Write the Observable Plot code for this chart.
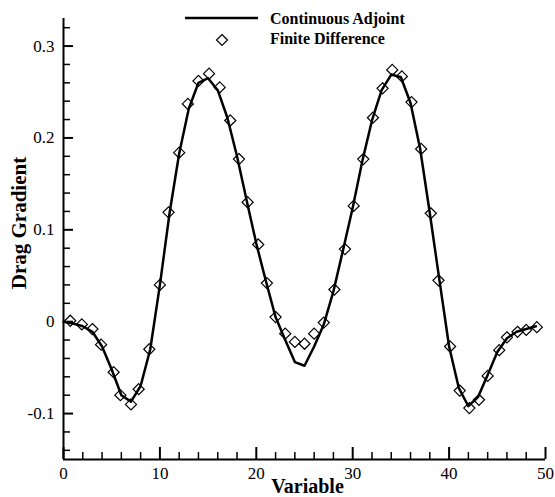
<!DOCTYPE html>
<html><head><meta charset="utf-8">
<script src="https://cdn.jsdelivr.net/npm/d3@7"></script>
<script src="https://cdn.jsdelivr.net/npm/@observablehq/plot@0.6"></script>
<style>
body{margin:0;background:#fff}
#wrap{position:relative;width:555px;height:497px}
#legend{position:absolute;left:0;top:0;pointer-events:none}
</style>
</head><body><div id="wrap"></div>
<script>
// Continuous adjoint gradient (line)
const adjointX = [0,1,2,3,4,5,6,7,8,9,10,11,12,13,14,15,16,17,18,19,20,21,22,23,24,25,26,27,28,29,30,31,32,33,34,35,36,37,38,39,40,41,42,43,44,45,46,47,48,49];
const adjointY = [0,-0.002,-0.005,-0.011,-0.027,-0.052,-0.080,-0.087,-0.070,-0.030,0.040,0.118,0.183,0.232,0.260,0.265,0.252,0.222,0.180,0.132,0.085,0.044,0.005,-0.020,-0.044,-0.048,-0.027,-0.003,0.033,0.078,0.124,0.175,0.219,0.252,0.269,0.266,0.238,0.188,0.118,0.045,-0.027,-0.072,-0.092,-0.082,-0.058,-0.033,-0.018,-0.011,-0.008,-0.005];
// Finite difference gradient (diamonds)
const fdX = [0.7,1.9,3.0,3.9,5.2,5.9,7.0,7.8,8.9,10.0,10.9,12.0,12.9,14.0,15.1,16.2,17.3,18.2,19.1,20.2,21.1,22.0,23.0,24.0,25.0,26.0,27.0,28.1,29.2,30.1,31.1,32.1,33.1,34.1,35.1,36.1,37.1,38.1,38.9,40.1,41.1,42.1,43.1,44.0,45.2,46.0,47.1,48.0,49.1];
const fdY = [0.001,-0.003,-0.008,-0.025,-0.055,-0.080,-0.090,-0.0735,-0.030,0.040,0.119,0.184,0.237,0.262,0.270,0.255,0.219,0.177,0.130,0.084,0.042,0.005,-0.013,-0.022,-0.024,-0.013,-0.001,0.035,0.079,0.126,0.177,0.222,0.254,0.274,0.267,0.239,0.188,0.118,0.045,-0.027,-0.075,-0.094,-0.085,-0.059,-0.031,-0.017,-0.011,-0.009,-0.006];

const xTicks = [0,10,20,30,40,50];
const xTickLabels = ["0","10","20","30","40","50"];
const xMinorTicks = [2,4,6,8,12,14,16,18,22,24,26,28,32,34,36,38,42,44,46,48];
const yTicks = [-0.1,0,0.1,0.2,0.3];
const yTickLabels = ["-0.1","0","0.1","0.2","0.3"];
const yMinorTicks = [-0.14,-0.12,-0.08,-0.06,-0.04,-0.02,0.02,0.04,0.06,0.08,0.12,0.14,0.16,0.18,0.22,0.24,0.26,0.28,0.32];
const seriesNames = ["Continuous Adjoint","Finite Difference"];
const xTitle = "Variable";
const yTitle = "Drag Gradient";

const adjoint = adjointX.map((x, i) => ({x, y: adjointY[i]}));
const fd = fdX.map((x, i) => ({x, y: fdY[i]}));
const serif = "Liberation Serif, Times New Roman, serif";

const chart = Plot.plot({
  width: 555, height: 497,
  marginLeft: 63, marginRight: 10, marginTop: 18, marginBottom: 38,
  x: {domain: [0, 50]},
  y: {domain: [-0.15, 0.33]},
  style: {fontFamily: serif, fontSize: "17px", color: "black", background: "white"},
  marks: [
    Plot.axisX(xMinorTicks, {tickSize: -7, strokeWidth: 1.5, tickFormat: () => "", label: null}),
    Plot.axisX(xTicks, {tickSize: -12, strokeWidth: 2, tickFormat: () => "", label: null}),
    Plot.axisX(xTicks, {tickSize: 0, tickPadding: 7, fontFamily: serif, fontSize: 17, tickFormat: d => xTickLabels[xTicks.indexOf(d)], label: null}),
    Plot.axisY(yMinorTicks, {tickSize: -7, strokeWidth: 1.5, tickFormat: () => "", label: null}),
    Plot.axisY(yTicks, {tickSize: -10, strokeWidth: 2, tickFormat: () => "", label: null}),
    Plot.axisY(yTicks, {tickSize: 0, tickPadding: 9, fontFamily: serif, fontSize: 17, tickFormat: d => yTickLabels[yTicks.indexOf(d)], label: null}),
    Plot.ruleX([0], {strokeWidth: 2}),
    Plot.ruleY([-0.15], {strokeWidth: 2}),
    Plot.line(adjoint, {x: "x", y: "y", stroke: "black", strokeWidth: 2.5}),
    Plot.dot(fd, {x: "x", y: "y", symbol: "diamond2", r: 5, stroke: "black", strokeWidth: 1.2, fill: "none"}),
    Plot.text([xTitle], {text: d => d, frameAnchor: "bottom", textAnchor: "middle", lineAnchor: "top", dy: 19, dx: 3, fontFamily: serif, fontSize: 20, fontWeight: "bold"}),
    Plot.text([yTitle], {text: d => d, frameAnchor: "left", textAnchor: "middle", rotate: -90, dx: -44, dy: -16, fontFamily: serif, fontSize: 21, fontWeight: "bold"})
  ]
});
const wrap = document.getElementById("wrap");
wrap.appendChild(chart);

// legend overlay
const ns = "http://www.w3.org/2000/svg";
const lg = document.createElementNS(ns, "svg");
lg.setAttribute("id", "legend");
lg.setAttribute("width", 555);
lg.setAttribute("height", 60);
lg.innerHTML = `
  <line x1="185" x2="258" y1="18" y2="18" stroke="black" stroke-width="2.5"/>
  <path d="M222,34.5L227.5,40L222,45.5L216.5,40Z" fill="none" stroke="black" stroke-width="1.2"/>
  <text x="270" y="23.5" font-family="${serif}" font-weight="bold" font-size="16">${seriesNames[0]}</text>
  <text x="270" y="44" font-family="${serif}" font-weight="bold" font-size="16">${seriesNames[1]}</text>`;
wrap.appendChild(lg);
</script>
</body></html>
